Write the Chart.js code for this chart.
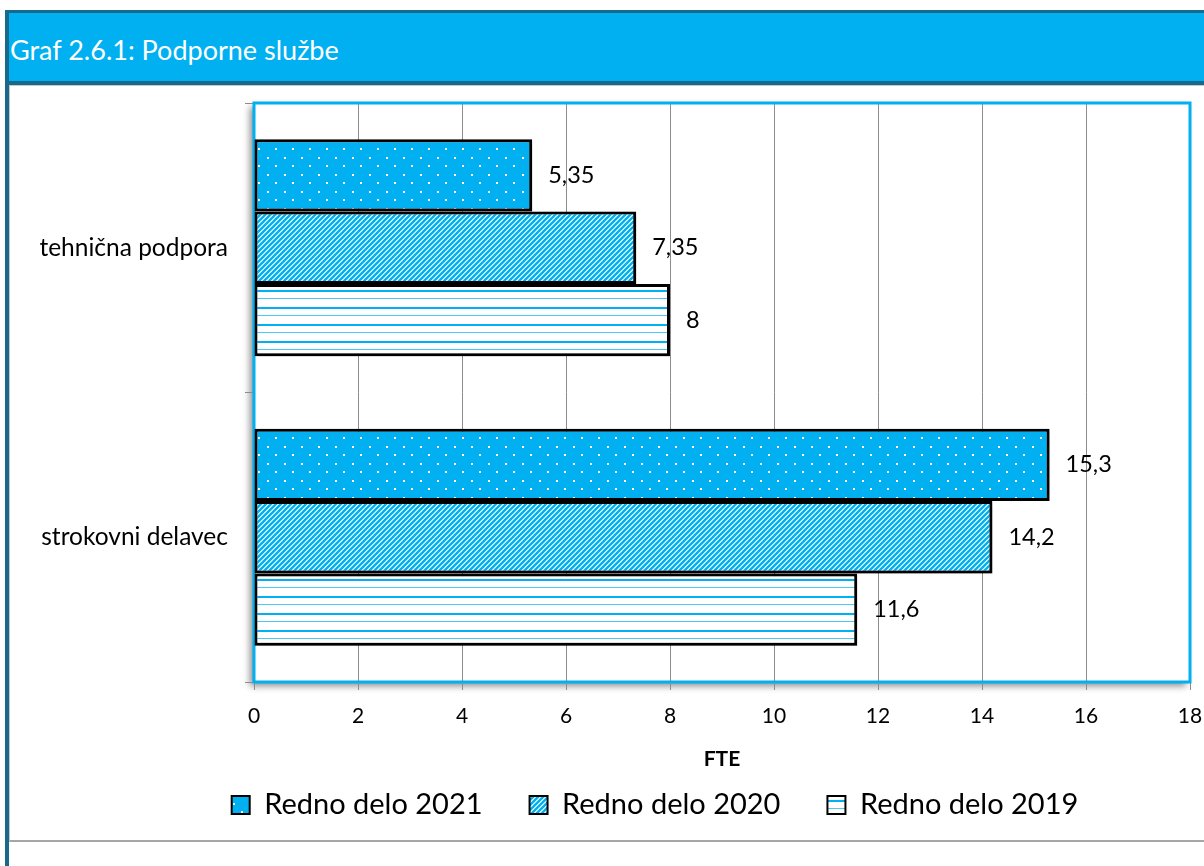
<!DOCTYPE html>
<html>
<head>
<meta charset="utf-8">
<script src="https://cdn.jsdelivr.net/npm/chart.js@4.4.0/dist/chart.umd.min.js"></script>
<style>
  html, body { margin: 0; padding: 0; background: #fff; }
  body { width: 1204px; height: 866px; position: relative; overflow: hidden; font-family: Lato, sans-serif; }
  #leftBar { position: absolute; left: 5px; top: 10px; width: 4px; height: 856px; background: #176a8b; }
  #head {
    position: absolute; left: 9px; top: 10px; width: 1195px; height: 75px; box-sizing: border-box;
    background: #00b0f0; border-top: 3px solid #176a8b; border-bottom: 4px solid #176a8b;
    color: #fff; font-size: 27px; line-height: 73px; padding-left: 1px; white-space: nowrap;
  }
  #panel { position: absolute; left: 9px; top: 85px; width: 1195px; height: 757px; border-left: 1px solid #c8c8c8; border-top: 1px solid #c8c8c8; border-bottom: 2px solid #a6a6a6; box-sizing: border-box; }
  #wrap { position: absolute; left: 9px; top: 86px; width: 1195px; height: 756px; }
</style>
</head>
<body>
<div id="leftBar"></div>
<div id="head">Graf 2.6.1: Podporne službe</div>
<div id="panel"></div>
<div id="wrap"><canvas id="chart" width="1195" height="756"></canvas></div>
<script>
const categories = ['tehnična podpora', 'strokovni delavec'];
const seriesNames = ['Redno delo 2021', 'Redno delo 2020', 'Redno delo 2019'];
const values2021 = [5.35, 15.3];
const values2020 = [7.35, 14.2];
const values2019 = [8, 11.6];
const xMin = 0;
const xMax = 18;
const xStep = 2;

const CYAN = '#00b0f0';
const canvas = document.getElementById('chart');
const ctx = canvas.getContext('2d');

function makePattern(w, h, draw) {
  const c = document.createElement('canvas');
  c.width = w;
  c.height = h;
  draw(c.getContext('2d'), w, h);
  return ctx.createPattern(c, 'repeat');
}

// dotted fill (2021)
const dots = makePattern(17, 17, (g, w, h) => {
  g.fillStyle = CYAN;
  g.fillRect(0, 0, w, h);
  g.fillStyle = '#fff';
  g.fillRect(3, 3, 2, 2);
  g.fillRect(11, 11, 2, 2);
});

// diagonal stripes (2020)
const stripes = makePattern(5, 5, (g, w, h) => {
  g.fillStyle = '#fff';
  g.fillRect(0, 0, w, h);
  g.strokeStyle = CYAN;
  g.lineWidth = 2.4;
  g.beginPath();
  g.moveTo(-1, 6); g.lineTo(6, -1);
  g.moveTo(-3, 3); g.lineTo(3, -3);
  g.moveTo(2, 8); g.lineTo(8, 2);
  g.stroke();
});

// horizontal lines (2019)
const hlines = makePattern(4, 17, (g, w, h) => {
  g.fillStyle = '#fff';
  g.fillRect(0, 0, w, h);
  g.fillStyle = CYAN;
  g.fillRect(0, 0, w, 2);
  g.fillStyle = '#4cc8f4';
  g.fillRect(0, 8, w, 1);
});

const LEGEND_SHIFT = 111;

const areaDeco = {
  id: 'areaDeco',
  afterLayout(chart) {
    // legend in the reference is centred a bit right of the canvas middle
    if (chart.legend) chart.legend.left += LEGEND_SHIFT;
  },
  beforeDraw(chart) {
    const a = chart.chartArea;
    const c = chart.ctx;
    c.save();
    c.shadowColor = 'rgba(0,0,0,0.45)';
    c.shadowBlur = 7;
    c.shadowOffsetX = -4;
    c.shadowOffsetY = 4;
    c.fillStyle = '#fff';
    c.fillRect(a.left, a.top, a.right - a.left, a.bottom - a.top);
    c.restore();
  },
  beforeDatasetsDraw(chart) {
    const a = chart.chartArea;
    const c = chart.ctx;
    c.save();
    c.strokeStyle = CYAN;
    c.lineWidth = 3;
    c.strokeRect(a.left, a.top, a.right - a.left, a.bottom - a.top);
    c.restore();
    c.save();
    c.shadowColor = 'rgba(0,0,0,0.4)';
    c.shadowBlur = 6;
    c.shadowOffsetX = 3;
    c.shadowOffsetY = 3;
  },
  afterDatasetsDraw(chart) {
    const c = chart.ctx;
    c.restore();
    c.save();
    c.font = '23.5px Lato';
    c.fillStyle = '#000';
    c.textAlign = 'left';
    c.textBaseline = 'middle';
    chart.data.datasets.forEach((ds, i) => {
      chart.getDatasetMeta(i).data.forEach((bar, j) => {
        const txt = String(ds.data[j]).replace('.', ',');
        c.fillText(txt, bar.x + 16, bar.y);
      });
    });
    c.restore();
  }
};

new Chart(canvas, {
  type: 'bar',
  data: {
    labels: categories,
    datasets: [
      { label: seriesNames[0], data: values2021, backgroundColor: dots },
      { label: seriesNames[1], data: values2020, backgroundColor: stripes },
      { label: seriesNames[2], data: values2019, backgroundColor: hlines }
    ]
  },
  options: {
    indexAxis: 'y',
    responsive: false,
    animation: false,
    layout: { padding: { left: 0, right: 14, top: 17, bottom: 12.5 } },
    datasets: {
      bar: {
        borderColor: '#000',
        borderWidth: 3,
        borderSkipped: false,
        categoryPercentage: 0.75,
        barPercentage: 1
      }
    },
    scales: {
      x: {
        min: xMin,
        max: xMax,
        ticks: { stepSize: xStep, color: '#000', font: { family: 'Lato', size: 21 }, padding: 14 },
        grid: { color: '#8c8c8c', tickLength: 8 },
        border: { display: false },
        title: {
          display: true,
          text: 'FTE',
          color: '#000',
          font: { family: 'Lato', size: 21, weight: 'bold' },
          padding: { top: 0, bottom: -28.5 }
        },
        afterFit(scale) {
          scale.height = 61.5;
          scale.paddingLeft = 0;
          scale.paddingRight = 0;
        }
      },
      y: {
        ticks: { color: '#000', font: { family: 'Lato', size: 24.5 }, padding: 17 },
        grid: { offset: true, drawOnChartArea: false, color: '#8c8c8c', tickLength: 9 },
        border: { display: false },
        afterFit(scale) {
          scale.width = 245;
          scale.paddingTop = 0;
          scale.paddingBottom = 0;
        }
      }
    },
    plugins: {
      legend: {
        position: 'bottom',
        labels: {
          boxWidth: 18,
          boxHeight: 18,
          padding: 47,
          color: '#000',
          font: { family: 'Lato', size: 29 },
          generateLabels(chart) {
            const items = Chart.defaults.plugins.legend.labels.generateLabels(chart);
            items.forEach((it) => { it.lineWidth = 2; });
            return items;
          }
        }
      },
      tooltip: { enabled: false }
    }
  },
  plugins: [areaDeco]
});
</script>
</body>
</html>
